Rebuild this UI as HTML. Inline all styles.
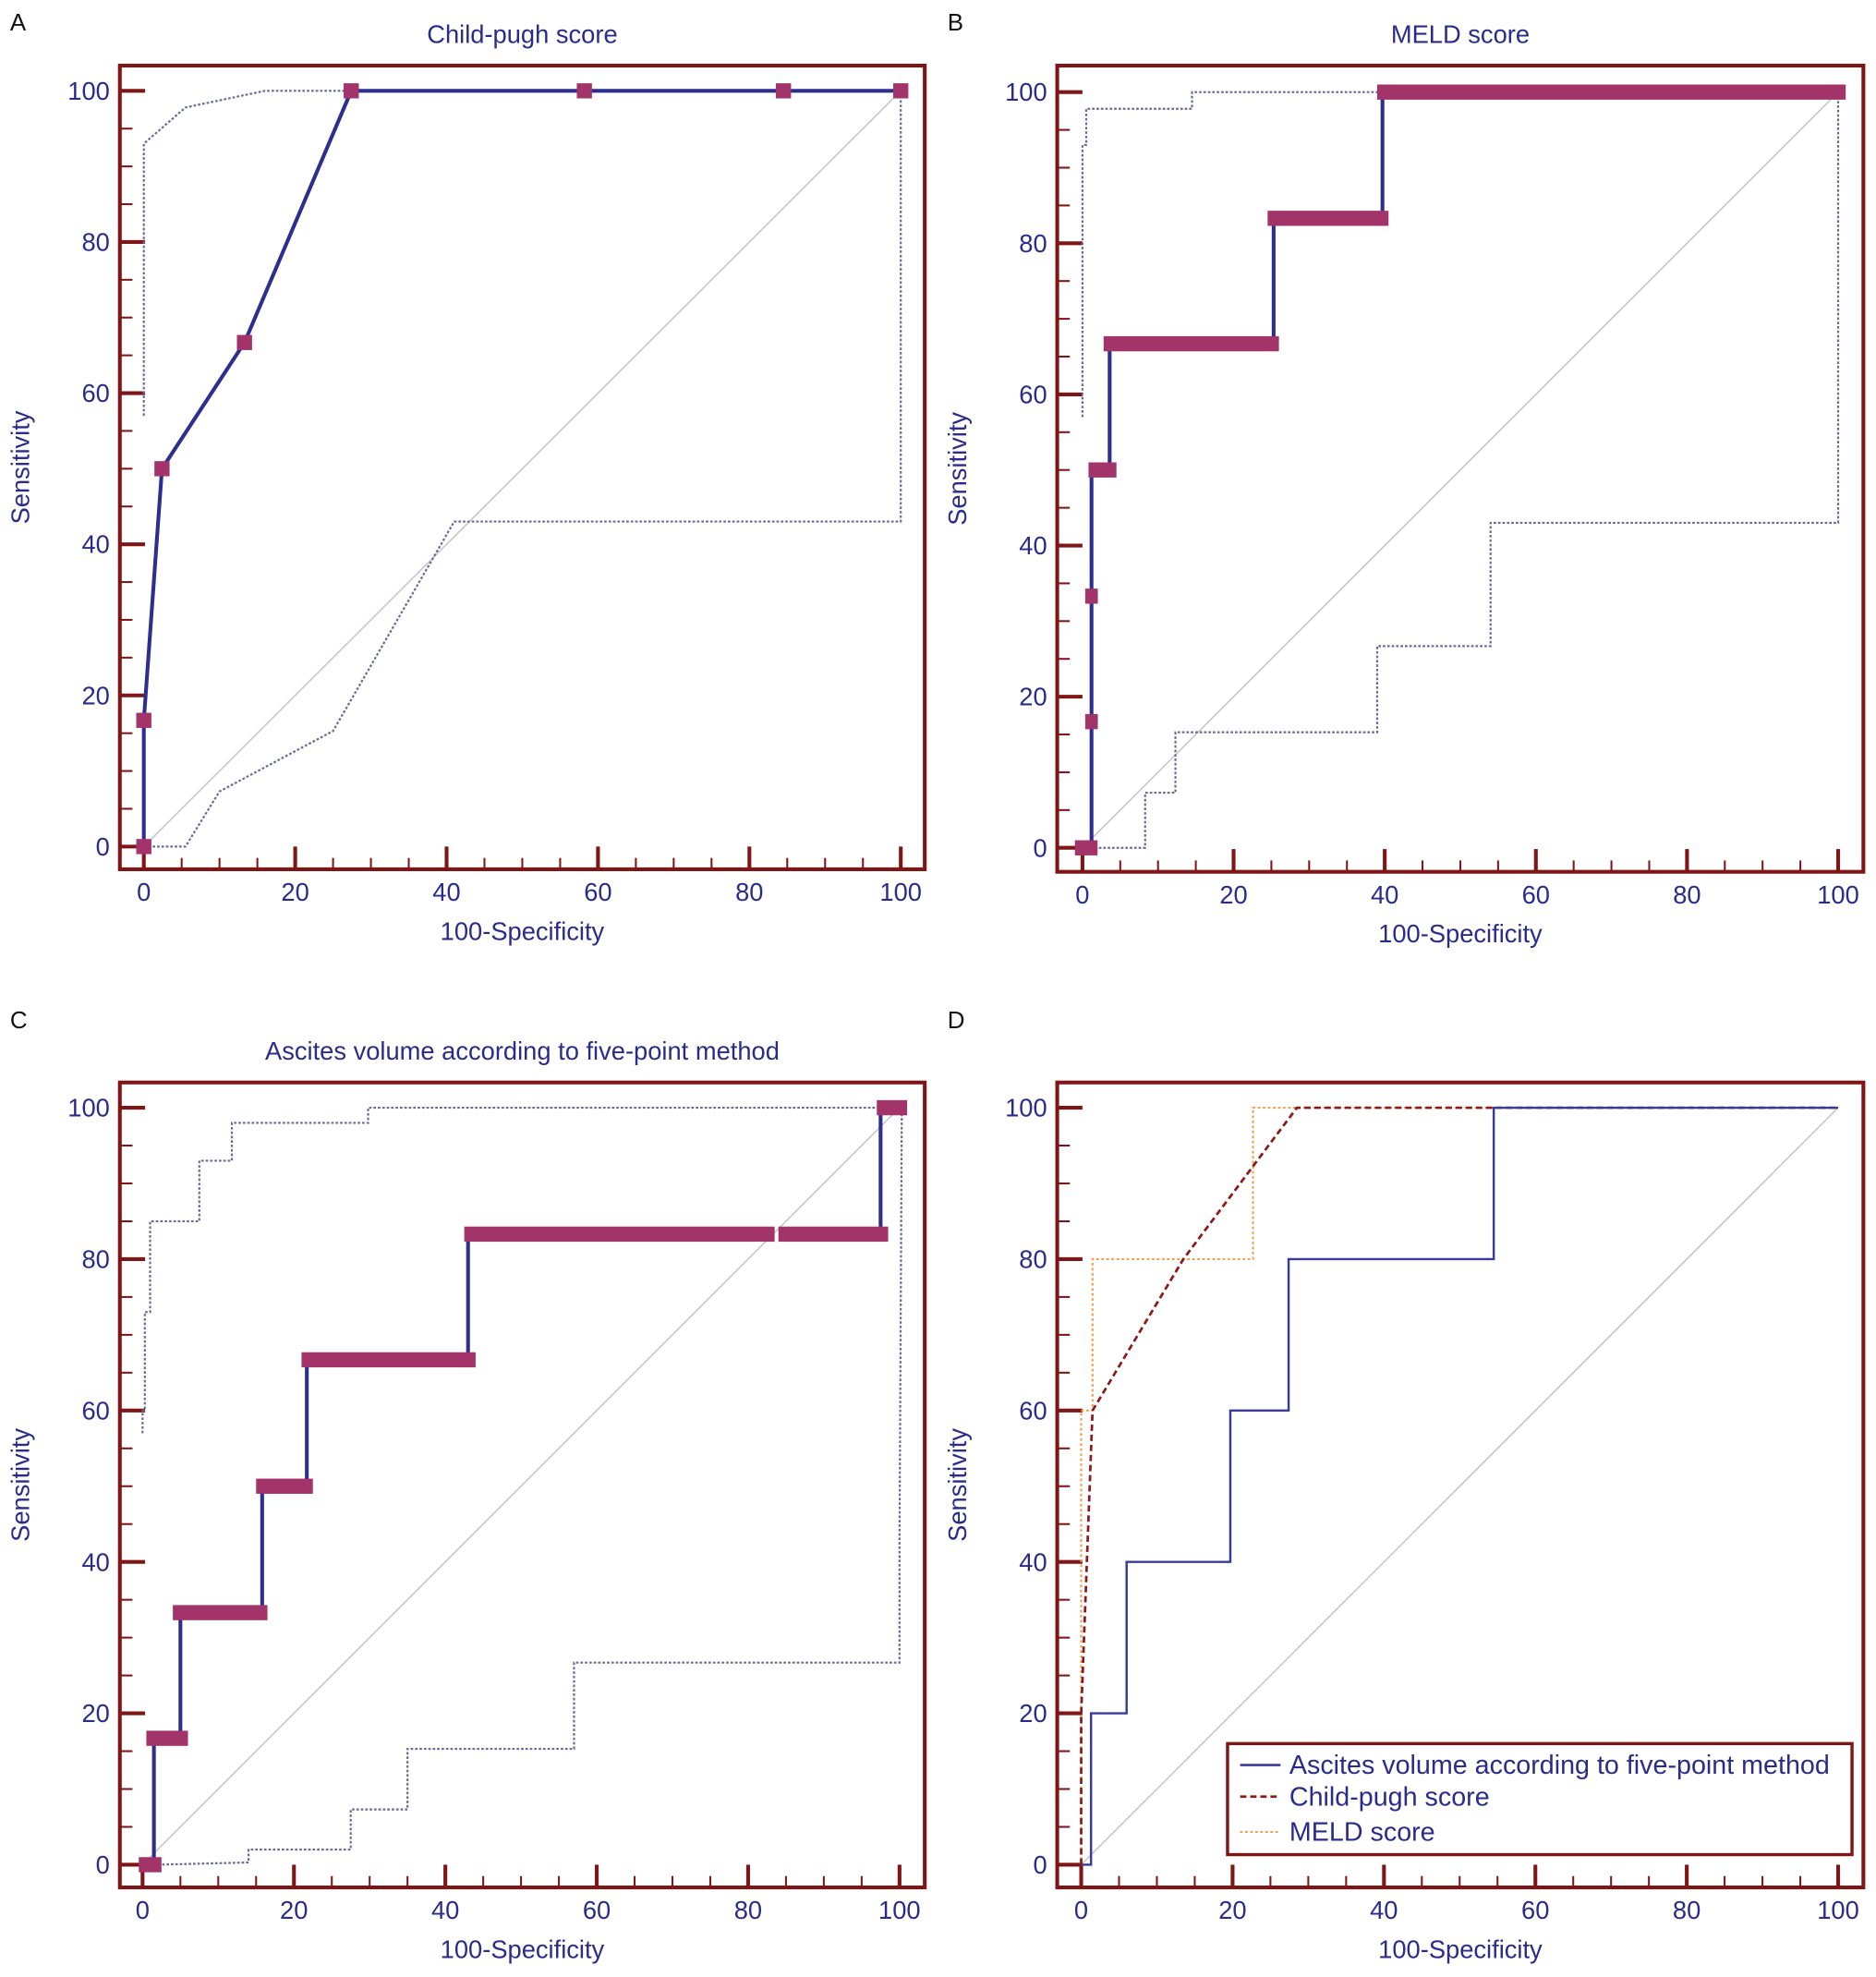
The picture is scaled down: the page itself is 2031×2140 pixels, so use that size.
<!DOCTYPE html>
<html><head><meta charset="utf-8"><style>
html,body{margin:0;padding:0;background:#fff;}
svg{display:block;font-family:"Liberation Sans",sans-serif;}
</style></head><body>
<svg id="fig" width="2031" height="2140" viewBox="0 0 1487 1567" preserveAspectRatio="none" xmlns="http://www.w3.org/2000/svg"></svg>
<script>
// ---- data (axis units: 100-Specificity, Sensitivity) ----
const tickValues = [0,20,40,60,80,100];
const aRocX = [0,0,2.4,13.3,27.4,58.2,84.5,100];
const aRocY = [0,16.7,50,66.7,100,100,100,100];
const aUpX = [0,0,5.5,16,100];
const aUpY = [57,93,97.8,100,100];
const aLoX = [0,5.5,10,25,41,100,100];
const aLoY = [0,0,7.3,15.3,43,43,100];

const bBarX1 = [-1,0.8,2.8,24.5,39];
const bBarX2 = [2,4.5,26,40.5,101];
const bBarY = [0,50,66.7,83.3,100];
const bVertX = [1.2,3.6,25.3,39.7];
const bVertY1 = [0,50,66.7,83.3];
const bVertY2 = [50,66.7,83.3,100];
const bMarkX = [1.2,1.2];
const bMarkY = [16.7,33.3];
const bUpX = [0,0,0.5,0.5,14.5,14.5,100];
const bUpY = [57,93,93,97.8,97.8,100,100];
const bLoX = [1,8.3,8.3,12.3,12.3,39,39,54,54,100,100];
const bLoY = [0,0,7.3,7.3,15.3,15.3,26.7,26.7,43,43,100];

const cBarX1 = [-0.5,0.5,4,15,21,42.5,84,97];
const cBarX2 = [2.5,6,16.5,22.5,44,83.5,98.5,101];
const cBarY = [0,16.7,33.3,50,66.7,83.3,83.3,100];
const cVertX = [1.5,5,15.8,21.7,43,97.5];
const cVertY1 = [0,16.7,33.3,50,66.7,83.3];
const cVertY2 = [16.7,33.3,50,66.7,83.3,100];
const cUpX = [0,0,0.3,0.3,1,1,7.5,7.5,11.8,11.8,29.8,29.8,100];
const cUpY = [57,60,60,73,73,85,85,93,93,98,98,100,100];
const cLoX = [2,14,14,27.5,27.5,35,35,57,57,100,100,100.3];
const cLoY = [0,0.3,2,2,7.3,7.3,15.3,15.3,26.7,26.7,43,100];

const dAscX = [0,1.3,1.3,6,6,19.7,19.7,27.4,27.4,54.5,54.5,100];
const dAscY = [0,0,20,20,40,40,60,60,80,80,100,100];
const dCpX = [0,0,1.5,13.5,28.5,100];
const dCpY = [0,20,60,80,100,100];
const dMeldX = [0,0,1.5,1.5,22.7,22.7,100];
const dMeldY = [0,60,60,80,80,100,100];
const legendLabels = ["Ascites volume according to five-point method","Child-pugh score","MELD score"];

// ---- drawing ----
const NS="http://www.w3.org/2000/svg";
const svg=document.getElementById('fig');
function mk(tag,attrs,parent){const e=document.createElementNS(NS,tag);for(const k in attrs)e.setAttribute(k,attrs[k]);(parent||svg).appendChild(e);return e;}
const BLUE="#2e2e8f", FR="#801515", MAG="#a3346a", TXT="#2b2b8c";

function panel(cfg){
  const g=mk('g',{});
  
  
  const sx=v=>cfg.x0+(cfg.x100-cfg.x0)*v/100;
  const sy=v=>cfg.y0+(cfg.y100-cfg.y0)*v/100;
  cfg.sx=sx;cfg.sy=sy;cfg.g=g;
  const L=mk('text',{x:cfg.fl-87,y:cfg.ly,'font-size':19,fill:'#111'},g);L.textContent=cfg.id;
  
  
  if(cfg.title){const t=mk('text',{x:(cfg.fl+cfg.fr)/2,y:cfg.ft-18,'font-size':20,fill:TXT,'text-anchor':'middle'},g);t.textContent=cfg.title;
    
    }
  const dg=mk('line',{x1:sx(0),y1:sy(0),x2:sx(100),y2:sy(100),stroke:'#c8c8c8','stroke-width':1.2},g);
  
  
  for(let v=0;v<=100;v+=5){
    const major=v%20===0;
    const ty=mk('line',{x1:cfg.fl,y1:sy(v),x2:cfg.fl+(major?20:10),y2:sy(v),stroke:FR,'stroke-width':major?3:1.5},g);
    
    
    const tx=mk('line',{x1:sx(v),y1:cfg.fb,x2:sx(v),y2:cfg.fb-(major?18:9),stroke:FR,'stroke-width':major?3:1.5},g);
    
    
  }
  tickValues.forEach(v=>{
    const a=mk('text',{x:cfg.fl-8,y:sy(v)+7,'font-size':20,fill:TXT,'text-anchor':'end'},g);a.textContent=v;
    
    
    const b=mk('text',{x:sx(v),y:cfg.fb+25,'font-size':20,fill:TXT,'text-anchor':'middle'},g);b.textContent=v;
    
    
  });
  const xt=mk('text',{x:(cfg.fl+cfg.fr)/2,y:cfg.fb+56,'font-size':20,fill:TXT,'text-anchor':'middle'},g);xt.textContent='100-Specificity';
  
  
  const yc=(cfg.ft+cfg.fb)/2;
  const yt=mk('text',{x:cfg.fl-72,y:yc,'font-size':20,fill:TXT,'text-anchor':'middle',transform:`rotate(-90 ${cfg.fl-72} ${yc})`},g);yt.textContent='Sensitivity';
  
  
  return g;
}
function frame(cfg){
  const r=mk('rect',{x:cfg.fl,y:cfg.ft,width:cfg.fr-cfg.fl,height:cfg.fb-cfg.ft,fill:'none',stroke:FR,'stroke-width':3},cfg.g);
  
  
}
function poly(cfg,xs,ys,attrs,name){
  const p=xs.map((x,i)=>cfg.sx(x).toFixed(1)+','+cfg.sy(ys[i]).toFixed(1)).join(' ');
  const e=mk('polyline',Object.assign({points:p,fill:'none'},attrs),cfg.g);
  
  
  return e;
}
function ci(cfg,ux,uy,lx,ly){
  poly(cfg,ux,uy,{stroke:'#6a6a9a','stroke-width':1.6,'stroke-dasharray':'2 1.5'},'ci-upper');
  poly(cfg,lx,ly,{stroke:'#6a6a9a','stroke-width':1.6,'stroke-dasharray':'2 1.5'},'ci-lower');
}
function bars(cfg,x1,x2,y,vx,vy1,vy2){
  vx.forEach((x,i)=>{
    const l=mk('line',{x1:cfg.sx(x),x2:cfg.sx(x),y1:cfg.sy(vy1[i]),y2:cfg.sy(vy2[i]),stroke:BLUE,'stroke-width':3},cfg.g);
    
    
  });
  y.forEach((v,i)=>{
    const r=mk('rect',{x:cfg.sx(x1[i]),y:cfg.sy(v)-6,width:cfg.sx(x2[i])-cfg.sx(x1[i]),height:12,fill:MAG},cfg.g);
    
    
  });
}
function marks(cfg,xs,ys,w,h){
  xs.forEach((x,i)=>{
    const r=mk('rect',{x:cfg.sx(x)-w/2,y:cfg.sy(ys[i])-h/2,width:w,height:h,fill:MAG},cfg.g);
    
    
  });
}

const A={id:'A',title:'Child-pugh score',fl:95,fr:733,ft:52,fb:689,x0:114,x100:714,y0:671,y100:72,ly:24};
const B={id:'B',title:'MELD score',fl:838,fr:1477,ft:52,fb:691,x0:858,x100:1457,y0:672,y100:73,ly:24};
const C={id:'C',title:'Ascites volume according to five-point method',fl:95,fr:733,ft:858,fb:1496,x0:113,x100:713,y0:1478,y100:878,ly:815};
const D={id:'D',title:null,fl:838,fr:1477,ft:858,fb:1496,x0:857,x100:1457,y0:1478,y100:878,ly:815};

panel(A); ci(A,aUpX,aUpY,aLoX,aLoY);
poly(A,aRocX,aRocY,{stroke:BLUE,'stroke-width':3},'roc-curve');
marks(A,aRocX,aRocY,12,12); frame(A);

panel(B); ci(B,bUpX,bUpY,bLoX,bLoY);
bars(B,bBarX1,bBarX2,bBarY,bVertX,bVertY1,bVertY2);
marks(B,bMarkX,bMarkY,10,12); frame(B);

panel(C); ci(C,cUpX,cUpY,cLoX,cLoY);
bars(C,cBarX1,cBarX2,cBarY,cVertX,cVertY1,cVertY2); frame(C);

panel(D);
poly(D,dMeldX,dMeldY,{stroke:'#f0a050','stroke-width':1.6,'stroke-dasharray':'2 2'},'meld-curve');
poly(D,dCpX,dCpY,{stroke:'#8b1a1a','stroke-width':2,'stroke-dasharray':'5 3'},'child-pugh-curve');
poly(D,dAscX,dAscY,{stroke:'#3a3a99','stroke-width':1.8},'ascites-curve');
frame(D);
const lg=mk('g',{},D.g);


const lb=mk('rect',{x:973,y:1382,width:495,height:88,fill:'#fff',stroke:FR,'stroke-width':2.5},lg);


const legStyles=[{stroke:'#3a3a99','stroke-width':2},{stroke:'#8b1a1a','stroke-width':2,'stroke-dasharray':'5 3'},{stroke:'#f0a050','stroke-width':1.6,'stroke-dasharray':'2 2'}];
const legY=[1399,1424,1452];
legendLabels.forEach((t,i)=>{
  const l=mk('line',Object.assign({x1:983,x2:1015,y1:legY[i],y2:legY[i]},legStyles[i]),lg);
  
  
  const tx=mk('text',{x:1022,y:legY[i]+7,'font-size':21,fill:TXT},lg);tx.textContent=t;
  
  
});
</script>
</body></html>
